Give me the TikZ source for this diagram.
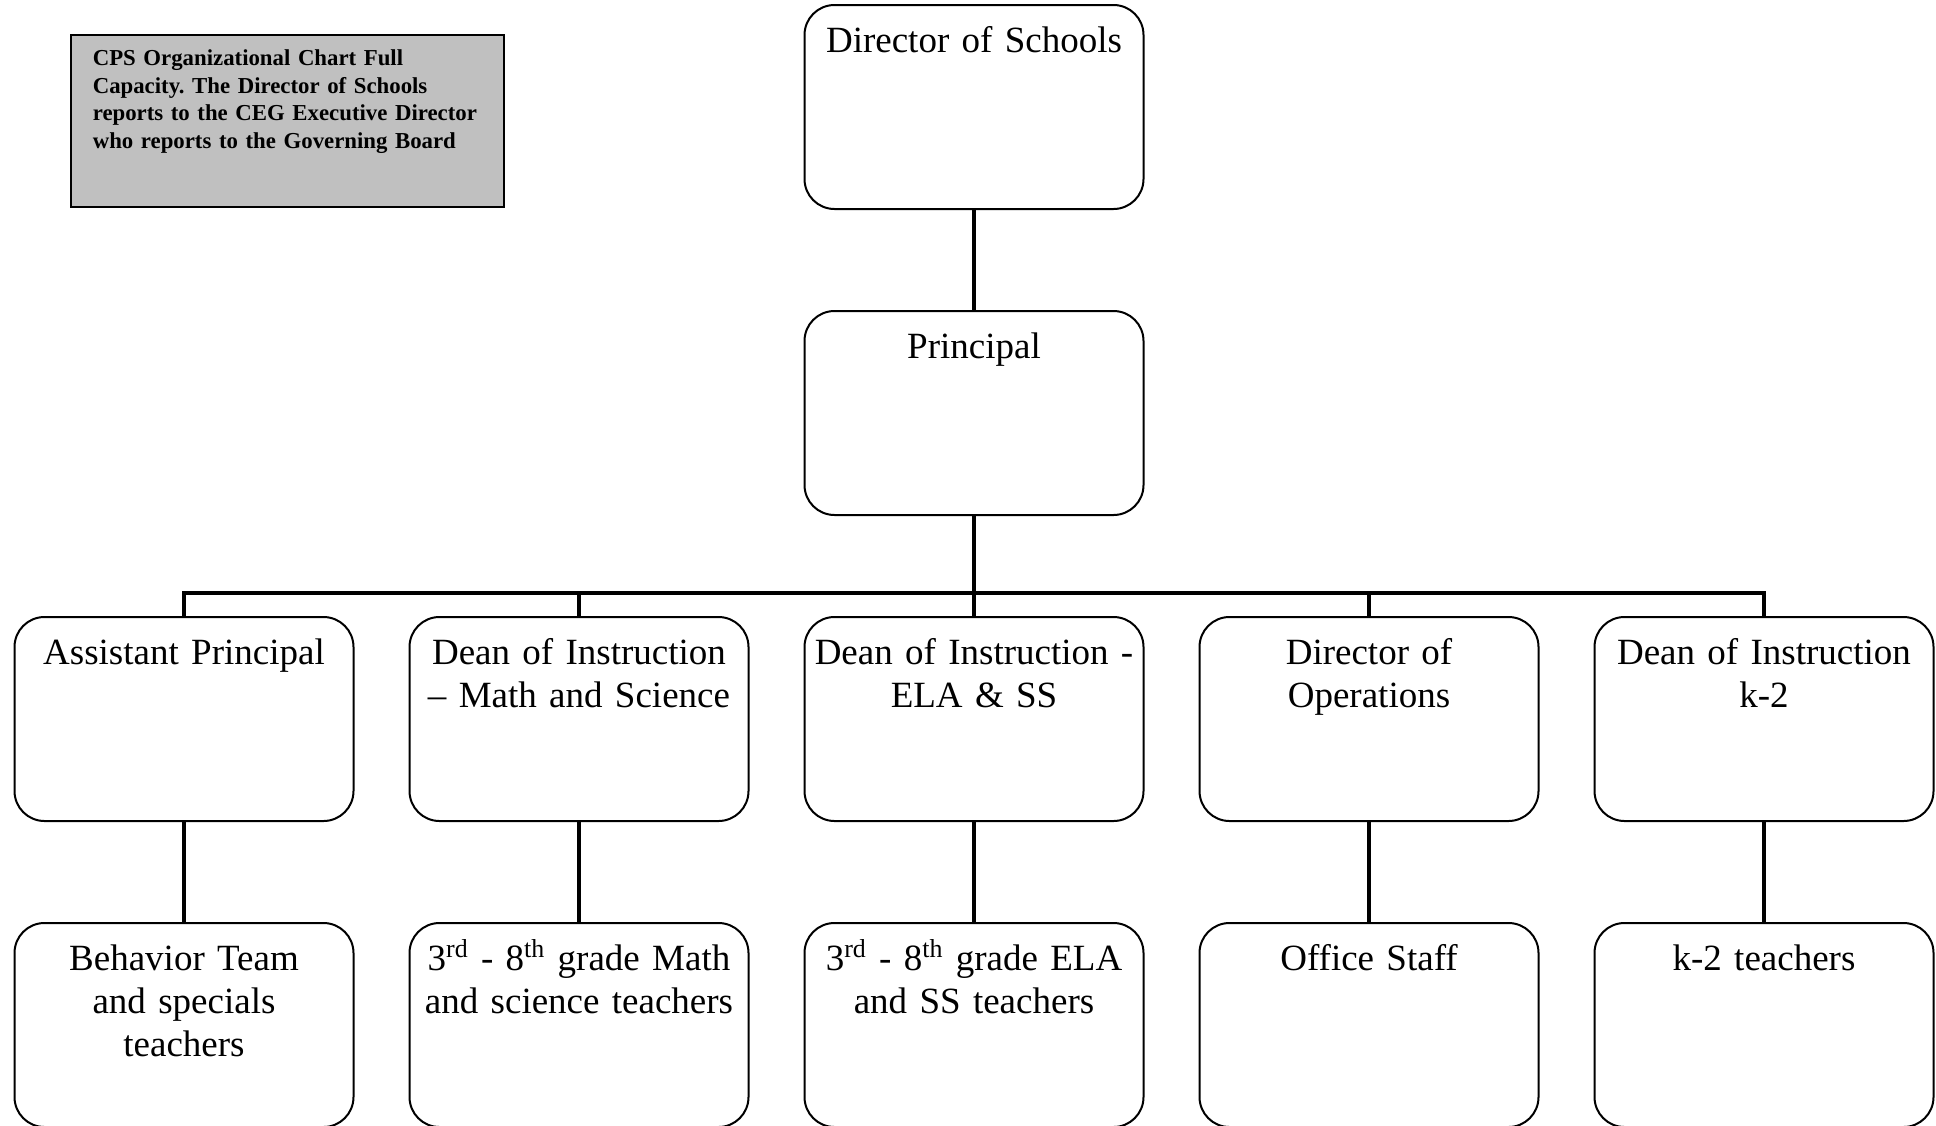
\documentclass[tikz,border=0pt]{standalone}
\usepackage{fontspec}
\setmainfont{Liberation Serif}
\usepackage{tikz}
\usetikzlibrary{positioning}
\definecolor{notegray}{RGB}{192,192,192}
\frenchspacing

\begin{document}
\begin{tikzpicture}[x=1pt, y=1pt,
  role/.style={draw, line width=1pt, rounded corners=15pt, align=center,
    text width=162pt, inner xsep=3.75pt, inner ysep=0pt,
    text height=23.5pt, text depth=78.5pt,
    font=\fontsize{18.5}{21.5}\selectfont},
  link/.style={line width=2.25pt}]
  \useasboundingbox (0,0) rectangle (968,-562.5);

  % note in the corner
  \node[draw, line width=0.8pt, fill=notegray, align=left, anchor=north west,
        text width=194.5pt, inner xsep=11pt, inner ysep=0pt,
        text height=15.5pt, text depth=70.5pt,
        font=\fontsize{11.4}{13.75}\selectfont\bfseries] (note) at (35,-17) {
    CPS Organizational Chart Full\\
    Capacity. The Director of Schools\\
    reports to the CEG Executive Director\\
    who reports to the Governing Board
  };

  % top of the chart
  \node[role] (director) at (487,-53.5) {Director of Schools};
  \node[role, below=50pt of director] (principal) {Principal};

  % deans and directors
  \node[role, below=50pt of principal] (dis) {Dean of Instruction -\\ ELA \& SS};
  \node[role, left=27pt of dis] (dms) {Dean of Instruction\\ -- Math and Science};
  \node[role, left=27pt of dms] (ap) {Assistant Principal};
  \node[role, right=27pt of dis] (dops) {Director of\\ Operations};
  \node[role, right=27pt of dops] (dk2) {Dean of Instruction\\ k-2};

  % staff
  \node[role, below=50pt of ap] (bt) {Behavior Team\\ and specials\\ teachers};
  \node[role, below=50pt of dms] (mst) {3\textsuperscript{rd} - 8\textsuperscript{th} grade Math\\ and science teachers};
  \node[role, below=50pt of dis] (elat) {3\textsuperscript{rd} - 8\textsuperscript{th} grade ELA\\ and SS teachers};
  \node[role, below=50pt of dops] (staff) {Office Staff};
  \node[role, below=50pt of dk2] (kt) {k-2 teachers};

  % connectors
  \coordinate[above=11.5pt of dis.north] (bus);
  \draw[link] (director.south) -- (principal.north);
  \draw[link] (principal.south) -- (bus);
  \draw[link] (ap.north) |- (bus) -| (dk2.north);
  \foreach \n in {dms,dis,dops}
    \draw[link] (\n.north) -- (\n.north |- bus);
  \foreach \u/\l in {ap/bt, dms/mst, dis/elat, dops/staff, dk2/kt}
    \draw[link] (\u.south) -- (\l.north);
\end{tikzpicture}
\end{document}
